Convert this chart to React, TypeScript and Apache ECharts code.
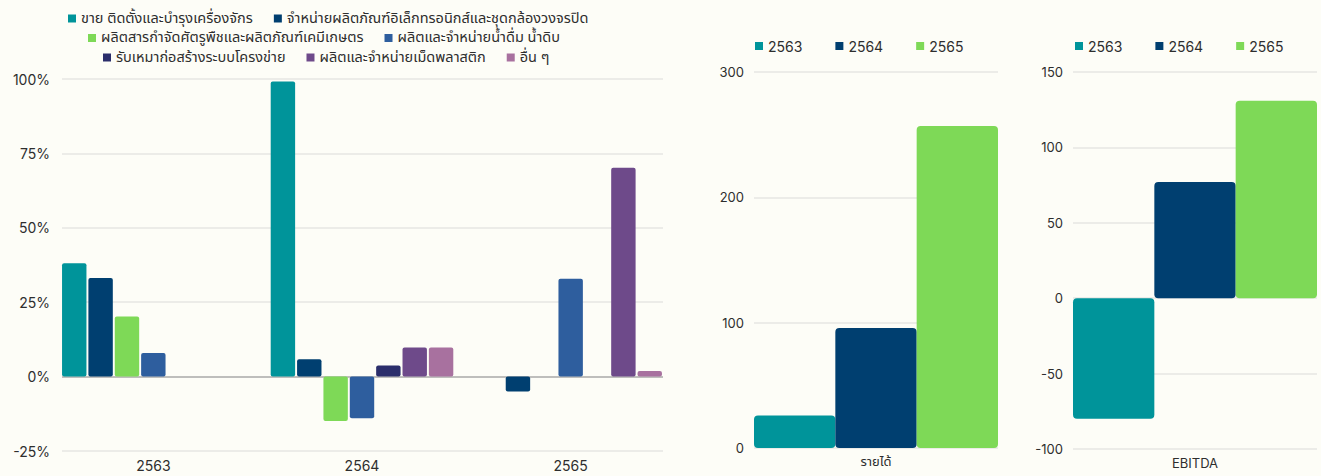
import React, { useEffect, useRef } from "react";
import * as echarts from "echarts";

const years = ["2563", "2564", "2565"];
const segmentNames = [
  "ขาย ติดตั้งและบำรุงเครื่องจักร",
  "จำหน่ายผลิตภัณฑ์อิเล็กทรอนิกส์และชุดกล้องวงจรปิด",
  "ผลิตสารกำจัดศัตรูพืชและผลิตภัณฑ์เคมีเกษตร",
  "ผลิตและจำหน่ายน้ำดื่ม น้ำดิบ",
  "รับเหมาก่อสร้างระบบโครงข่าย",
  "ผลิตและจำหน่ายเม็ดพลาสติก",
  "อื่น ๆ",
];
const machinery = [38.1, 99.2, 0];
const electronics = [33.1, 5.8, -5.0];
const agroChemicals = [20.2, -14.9, 0];
const drinkingWater = [7.9, -14.0, 32.9];
const networkConstruction = [0, 3.7, 0];
const plasticPellets = [0, 9.8, 70.2];
const others = [0, 9.8, 1.9];
const segmentValues = [
  machinery,
  electronics,
  agroChemicals,
  drinkingWater,
  networkConstruction,
  plasticPellets,
  others,
];
const shareTicks = [-25, 100, 25];

const revenueCategory = ["รายได้"];
const revenue = [26, 95.7, 257];
const revenueTicks = [0, 300, 100];

const ebitdaCategory = ["EBITDA"];
const ebitda = [-80, 77, 131];
const ebitdaTicks = [-100, 150, 50];

const segmentColors = [
  "#00949A",
  "#003F70",
  "#7ED957",
  "#2E5E9E",
  "#2B2E6B",
  "#6E4A8A",
  "#A8719F",
];
const yearColors = ["#00949A", "#003F70", "#7ED957"];

const BG = "#FDFDF7";
const NUM_FONT = "Inter, 'Noto Sans', sans-serif";
const THAI_FONT = "'Noto Sans Thai', 'Noto Sans Thai Looped', 'Noto Sans', sans-serif";

export default function App() {
  const ref = useRef<HTMLDivElement>(null);

  useEffect(() => {
    document.body.style.margin = "0";
    document.body.style.background = BG;
    const chart = echarts.init(ref.current!, undefined, { renderer: "svg" });

    const legendText = {
      fontSize: 14.5,
      lineHeight: 15,
      color: "#2e2e2e",
      fontFamily: THAI_FONT,
    };
    const yearLegendText = { fontSize: 14, color: "#2e2e2e", fontFamily: NUM_FONT };
    const axisLabelStyle = { fontSize: 13, color: "#2e2e2e", fontFamily: NUM_FONT };

    const leftSeries = segmentNames.map((name, i) => ({
      name,
      type: "bar",
      xAxisIndex: 1,
      yAxisIndex: 1,
      data: segmentValues[i],
      barGap: "8%",
      barCategoryGap: "12.5%",
      itemStyle: { color: segmentColors[i], borderRadius: 2 },
    }));

    const revenueSeries = years.map((name, i) => ({
      name,
      type: "bar",
      xAxisIndex: 2,
      yAxisIndex: 2,
      data: [revenue[i]],
      barGap: "0%",
      barCategoryGap: "0%",
      itemStyle: { color: yearColors[i], borderRadius: 4 },
    }));

    const ebitdaSeries = years.map((name, i) => ({
      name,
      type: "bar",
      xAxisIndex: 3,
      yAxisIndex: 3,
      data: [ebitda[i]],
      barGap: "0%",
      barCategoryGap: "0%",
      itemStyle: { color: yearColors[i], borderRadius: 4 },
    }));

    const lightSplit = { show: true, lineStyle: { color: "#E6E6E3", width: 1.5 } };

    const legendBase = {
      icon: "rect",
      itemWidth: 8,
      itemHeight: 8,
      padding: [2, 5, 2, 5],
    };

    chart.setOption({
      animation: false,
      backgroundColor: BG,
      color: segmentColors,
      legend: [
        {
          ...legendBase,
          data: segmentNames.slice(0, 2),
          left: 63,
          top: 9,
          itemGap: 21,
          textStyle: legendText,
        },
        {
          ...legendBase,
          data: segmentNames.slice(2, 4),
          left: 83,
          top: 28.5,
          itemGap: 21,
          textStyle: legendText,
        },
        {
          ...legendBase,
          data: segmentNames.slice(4, 7),
          left: 98,
          top: 48,
          itemGap: 21,
          textStyle: legendText,
        },
        {
          ...legendBase,
          data: years,
          left: 750,
          top: 37,
          itemGap: 33,
          textStyle: yearLegendText,
        },
        {
          ...legendBase,
          data: years,
          left: 1070,
          top: 37,
          itemGap: 33,
          textStyle: yearLegendText,
        },
      ],
      grid: [
        { left: 62, right: 658, top: 79, bottom: 25 },
        { left: 49, right: 646, top: 79, bottom: 25 },
        { left: 754, right: 323, top: 72, bottom: 28 },
        { left: 1073, right: 4, top: 72, bottom: 27 },
      ],
      xAxis: [
        { type: "category", gridIndex: 0, data: years, show: false },
        {
          type: "category",
          gridIndex: 1,
          data: years,
          axisLine: { show: false, onZero: false },
          axisTick: { show: false },
          axisLabel: { ...axisLabelStyle, fontSize: 14, margin: 7 },
        },
        {
          type: "category",
          gridIndex: 2,
          data: revenueCategory,
          axisLine: { show: false, onZero: false },
          axisTick: { show: false },
          axisLabel: { ...axisLabelStyle, fontFamily: THAI_FONT, fontSize: 13, margin: 7 },
        },
        {
          type: "category",
          gridIndex: 3,
          data: ebitdaCategory,
          axisLine: { show: false, onZero: false },
          axisTick: { show: false },
          axisLabel: { ...axisLabelStyle, fontSize: 13, margin: 7 },
        },
      ],
      yAxis: [
        {
          type: "value",
          gridIndex: 0,
          min: shareTicks[0],
          max: shareTicks[1],
          interval: shareTicks[2],
          axisLabel: { ...axisLabelStyle, fontSize: 14, margin: 12, formatter: "{value}%" },
          axisLine: { show: false },
          axisTick: { show: false },
          splitLine: {
            show: true,
            lineStyle: {
              color: ["#E6E6E3", "#A8A8A8", "#E6E6E3", "#E6E6E3", "#E6E6E3", "#E6E6E3"],
              width: 1.5,
            },
          },
        },
        {
          type: "value",
          gridIndex: 1,
          min: shareTicks[0],
          max: shareTicks[1],
          interval: shareTicks[2],
          show: false,
          splitLine: { show: false },
        },
        {
          type: "value",
          gridIndex: 2,
          min: revenueTicks[0],
          max: revenueTicks[1],
          interval: revenueTicks[2],
          axisLabel: { ...axisLabelStyle, margin: 10 },
          axisLine: { show: false },
          axisTick: { show: false },
          splitLine: lightSplit,
        },
        {
          type: "value",
          gridIndex: 3,
          min: ebitdaTicks[0],
          max: ebitdaTicks[1],
          interval: ebitdaTicks[2],
          axisLabel: { ...axisLabelStyle, margin: 10 },
          axisLine: { show: false },
          axisTick: { show: false },
          splitLine: lightSplit,
        },
      ],
      series: [...leftSeries, ...revenueSeries, ...ebitdaSeries],
    });

    return () => chart.dispose();
  }, []);

  return (
    <div
      ref={ref}
      style={{ position: "absolute", left: 0, top: 0, width: 1321, height: 476 }}
    />
  );
}
